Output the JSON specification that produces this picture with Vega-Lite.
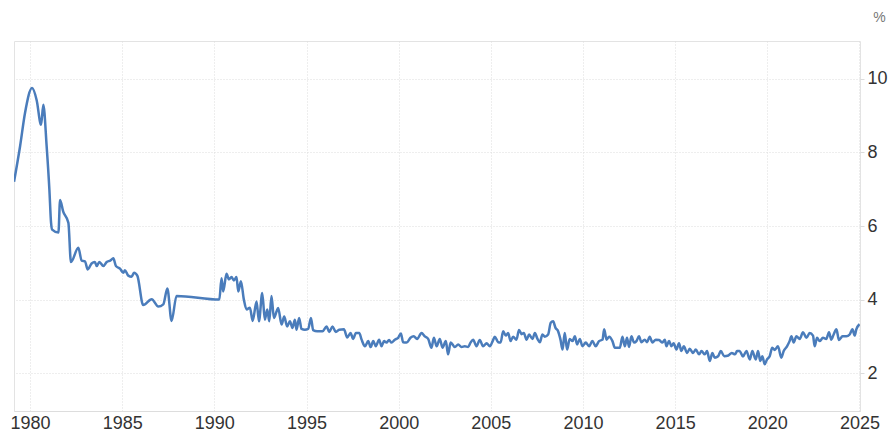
{
  "$schema": "https://vega.github.io/schema/vega-lite/v6.json",
  "width": 846,
  "height": 370,
  "autosize": {"type": "none"},
  "padding": {"left": 14, "top": 41, "right": 36, "bottom": 25},
  "background": "white",
  "config": {
    "font": "Liberation Sans",
    "view": {"stroke": "#e3e3e3", "strokeWidth": 1}
  },
  "data": {
    "values": [
      {"t": 1979.13, "v": 7.2}, {"t": 1979.46, "v": 8.17}, {"t": 1979.73, "v": 9.08}, {"t": 1980.11, "v": 9.75},
      {"t": 1980.36, "v": 9.42}, {"t": 1980.6, "v": 8.75}, {"t": 1980.72, "v": 9.3}, {"t": 1980.9, "v": 8.18},
      {"t": 1981.05, "v": 6.99}, {"t": 1981.14, "v": 6.09}, {"t": 1981.2, "v": 5.9}, {"t": 1981.54, "v": 5.82},
      {"t": 1981.63, "v": 6.71}, {"t": 1981.8, "v": 6.39}, {"t": 1982.08, "v": 6.09}, {"t": 1982.22, "v": 5.02},
      {"t": 1982.62, "v": 5.41}, {"t": 1982.8, "v": 5.06}, {"t": 1982.98, "v": 5.04}, {"t": 1983.13, "v": 4.82},
      {"t": 1983.34, "v": 4.98}, {"t": 1983.52, "v": 5.02}, {"t": 1983.62, "v": 4.91}, {"t": 1983.76, "v": 5.02},
      {"t": 1983.98, "v": 4.91}, {"t": 1984.16, "v": 5.02}, {"t": 1984.35, "v": 5.06}, {"t": 1984.52, "v": 5.12},
      {"t": 1984.66, "v": 4.91}, {"t": 1984.88, "v": 4.84}, {"t": 1985.06, "v": 4.73}, {"t": 1985.15, "v": 4.8},
      {"t": 1985.33, "v": 4.65}, {"t": 1985.51, "v": 4.62}, {"t": 1985.64, "v": 4.73}, {"t": 1985.82, "v": 4.65},
      {"t": 1986.14, "v": 3.85}, {"t": 1986.6, "v": 4.01}, {"t": 1986.96, "v": 3.81}, {"t": 1987.23, "v": 3.87},
      {"t": 1987.45, "v": 4.3}, {"t": 1987.68, "v": 3.42}, {"t": 1987.95, "v": 4.1}, {"t": 1990.27, "v": 4.0},
      {"t": 1990.39, "v": 4.58}, {"t": 1990.48, "v": 4.22}, {"t": 1990.66, "v": 4.7}, {"t": 1990.79, "v": 4.55},
      {"t": 1990.93, "v": 4.61}, {"t": 1991.06, "v": 4.52}, {"t": 1991.2, "v": 4.61}, {"t": 1991.3, "v": 4.22},
      {"t": 1991.44, "v": 4.5}, {"t": 1991.6, "v": 4.0}, {"t": 1991.75, "v": 3.73}, {"t": 1991.93, "v": 3.78},
      {"t": 1992.08, "v": 3.42}, {"t": 1992.29, "v": 3.95}, {"t": 1992.42, "v": 3.41}, {"t": 1992.6, "v": 4.18},
      {"t": 1992.74, "v": 3.45}, {"t": 1992.87, "v": 3.73}, {"t": 1992.98, "v": 3.41}, {"t": 1993.1, "v": 4.1},
      {"t": 1993.23, "v": 3.5}, {"t": 1993.38, "v": 3.68}, {"t": 1993.46, "v": 3.77}, {"t": 1993.65, "v": 3.32},
      {"t": 1993.79, "v": 3.54}, {"t": 1993.95, "v": 3.27}, {"t": 1994.1, "v": 3.41}, {"t": 1994.24, "v": 3.23},
      {"t": 1994.37, "v": 3.45}, {"t": 1994.46, "v": 3.18}, {"t": 1994.6, "v": 3.5}, {"t": 1994.73, "v": 3.2},
      {"t": 1994.91, "v": 3.18}, {"t": 1995.09, "v": 3.2}, {"t": 1995.24, "v": 3.5}, {"t": 1995.36, "v": 3.17},
      {"t": 1995.58, "v": 3.14}, {"t": 1995.87, "v": 3.14}, {"t": 1996.09, "v": 3.27}, {"t": 1996.23, "v": 3.12},
      {"t": 1996.41, "v": 3.27}, {"t": 1996.59, "v": 3.12}, {"t": 1996.77, "v": 3.18}, {"t": 1997.03, "v": 3.19},
      {"t": 1997.21, "v": 2.97}, {"t": 1997.39, "v": 3.09}, {"t": 1997.53, "v": 2.93}, {"t": 1997.68, "v": 3.09},
      {"t": 1997.86, "v": 3.09}, {"t": 1997.99, "v": 2.91}, {"t": 1998.17, "v": 2.73}, {"t": 1998.35, "v": 2.87},
      {"t": 1998.48, "v": 2.71}, {"t": 1998.62, "v": 2.87}, {"t": 1998.76, "v": 2.73}, {"t": 1998.94, "v": 2.91},
      {"t": 1999.07, "v": 2.73}, {"t": 1999.21, "v": 2.87}, {"t": 1999.34, "v": 2.83}, {"t": 1999.48, "v": 2.9},
      {"t": 1999.61, "v": 2.83}, {"t": 1999.79, "v": 2.91}, {"t": 1999.97, "v": 2.96}, {"t": 2000.12, "v": 3.08},
      {"t": 2000.24, "v": 2.84}, {"t": 2000.43, "v": 2.83}, {"t": 2000.64, "v": 2.96}, {"t": 2000.82, "v": 3.0},
      {"t": 2001.0, "v": 2.93}, {"t": 2001.24, "v": 3.09}, {"t": 2001.42, "v": 3.0}, {"t": 2001.6, "v": 2.93},
      {"t": 2001.78, "v": 2.69}, {"t": 2001.91, "v": 2.96}, {"t": 2002.06, "v": 2.73}, {"t": 2002.23, "v": 2.93},
      {"t": 2002.38, "v": 2.69}, {"t": 2002.56, "v": 2.87}, {"t": 2002.68, "v": 2.51}, {"t": 2002.82, "v": 2.83},
      {"t": 2003.05, "v": 2.71}, {"t": 2003.23, "v": 2.78}, {"t": 2003.41, "v": 2.71}, {"t": 2003.59, "v": 2.73},
      {"t": 2003.77, "v": 2.71}, {"t": 2003.9, "v": 2.83}, {"t": 2004.04, "v": 2.91}, {"t": 2004.22, "v": 2.73},
      {"t": 2004.4, "v": 2.9}, {"t": 2004.58, "v": 2.73}, {"t": 2004.77, "v": 2.81}, {"t": 2004.95, "v": 2.73},
      {"t": 2005.1, "v": 2.87}, {"t": 2005.22, "v": 2.99}, {"t": 2005.4, "v": 2.84}, {"t": 2005.53, "v": 2.83},
      {"t": 2005.67, "v": 3.14}, {"t": 2005.81, "v": 3.02}, {"t": 2005.94, "v": 3.09}, {"t": 2006.07, "v": 2.87},
      {"t": 2006.21, "v": 2.99}, {"t": 2006.39, "v": 2.91}, {"t": 2006.53, "v": 3.17}, {"t": 2006.67, "v": 3.06},
      {"t": 2006.79, "v": 3.09}, {"t": 2006.94, "v": 2.91}, {"t": 2007.08, "v": 3.05}, {"t": 2007.26, "v": 2.93},
      {"t": 2007.39, "v": 3.09}, {"t": 2007.53, "v": 2.93}, {"t": 2007.66, "v": 2.84}, {"t": 2007.8, "v": 3.05},
      {"t": 2007.93, "v": 2.99}, {"t": 2008.11, "v": 3.05}, {"t": 2008.25, "v": 3.37}, {"t": 2008.38, "v": 3.41},
      {"t": 2008.51, "v": 3.23}, {"t": 2008.65, "v": 3.14}, {"t": 2008.78, "v": 2.91}, {"t": 2008.89, "v": 2.64},
      {"t": 2009.01, "v": 3.09}, {"t": 2009.14, "v": 2.64}, {"t": 2009.28, "v": 2.93}, {"t": 2009.43, "v": 2.87},
      {"t": 2009.56, "v": 3.0}, {"t": 2009.68, "v": 2.78}, {"t": 2009.83, "v": 2.93}, {"t": 2009.97, "v": 2.73},
      {"t": 2010.15, "v": 2.83}, {"t": 2010.33, "v": 2.73}, {"t": 2010.51, "v": 2.87}, {"t": 2010.69, "v": 2.73},
      {"t": 2010.87, "v": 2.87}, {"t": 2011.06, "v": 2.91}, {"t": 2011.15, "v": 3.19}, {"t": 2011.28, "v": 2.91},
      {"t": 2011.42, "v": 2.99}, {"t": 2011.6, "v": 2.87}, {"t": 2011.73, "v": 2.69}, {"t": 2012.0, "v": 2.69},
      {"t": 2012.14, "v": 2.99}, {"t": 2012.27, "v": 2.73}, {"t": 2012.39, "v": 2.96}, {"t": 2012.5, "v": 2.71},
      {"t": 2012.63, "v": 3.0}, {"t": 2012.77, "v": 2.83}, {"t": 2012.9, "v": 2.87}, {"t": 2013.04, "v": 3.0},
      {"t": 2013.17, "v": 2.84}, {"t": 2013.35, "v": 2.91}, {"t": 2013.48, "v": 2.84}, {"t": 2013.62, "v": 2.99},
      {"t": 2013.77, "v": 2.83}, {"t": 2013.95, "v": 2.91}, {"t": 2014.13, "v": 2.9}, {"t": 2014.31, "v": 2.83},
      {"t": 2014.44, "v": 2.91}, {"t": 2014.53, "v": 2.73}, {"t": 2014.67, "v": 2.87}, {"t": 2014.8, "v": 2.73},
      {"t": 2014.92, "v": 2.81}, {"t": 2015.07, "v": 2.64}, {"t": 2015.21, "v": 2.81}, {"t": 2015.34, "v": 2.6},
      {"t": 2015.47, "v": 2.73}, {"t": 2015.65, "v": 2.55}, {"t": 2015.79, "v": 2.66}, {"t": 2015.97, "v": 2.55},
      {"t": 2016.12, "v": 2.64}, {"t": 2016.3, "v": 2.51}, {"t": 2016.43, "v": 2.6}, {"t": 2016.61, "v": 2.51},
      {"t": 2016.73, "v": 2.6}, {"t": 2016.88, "v": 2.33}, {"t": 2017.02, "v": 2.55}, {"t": 2017.15, "v": 2.42},
      {"t": 2017.33, "v": 2.46}, {"t": 2017.48, "v": 2.6}, {"t": 2017.66, "v": 2.46}, {"t": 2017.89, "v": 2.48},
      {"t": 2018.07, "v": 2.55}, {"t": 2018.25, "v": 2.51}, {"t": 2018.36, "v": 2.6}, {"t": 2018.5, "v": 2.6},
      {"t": 2018.68, "v": 2.45}, {"t": 2018.87, "v": 2.6}, {"t": 2019.05, "v": 2.37}, {"t": 2019.19, "v": 2.6},
      {"t": 2019.37, "v": 2.37}, {"t": 2019.5, "v": 2.6}, {"t": 2019.62, "v": 2.33}, {"t": 2019.73, "v": 2.46},
      {"t": 2019.86, "v": 2.24}, {"t": 2019.98, "v": 2.37}, {"t": 2020.13, "v": 2.46}, {"t": 2020.27, "v": 2.69},
      {"t": 2020.4, "v": 2.63}, {"t": 2020.58, "v": 2.73}, {"t": 2020.76, "v": 2.42}, {"t": 2020.89, "v": 2.6},
      {"t": 2021.07, "v": 2.73}, {"t": 2021.21, "v": 2.87}, {"t": 2021.31, "v": 3.0}, {"t": 2021.43, "v": 2.83},
      {"t": 2021.58, "v": 3.0}, {"t": 2021.76, "v": 2.93}, {"t": 2021.94, "v": 3.11}, {"t": 2022.12, "v": 2.96},
      {"t": 2022.3, "v": 3.09}, {"t": 2022.48, "v": 3.02}, {"t": 2022.57, "v": 2.73}, {"t": 2022.7, "v": 2.96},
      {"t": 2022.84, "v": 2.87}, {"t": 2023.02, "v": 2.96}, {"t": 2023.2, "v": 2.93}, {"t": 2023.35, "v": 3.11},
      {"t": 2023.47, "v": 2.91}, {"t": 2023.6, "v": 3.05}, {"t": 2023.75, "v": 3.19}, {"t": 2023.89, "v": 2.9},
      {"t": 2024.08, "v": 3.0}, {"t": 2024.29, "v": 3.0}, {"t": 2024.47, "v": 3.05}, {"t": 2024.62, "v": 3.19},
      {"t": 2024.74, "v": 3.02}, {"t": 2024.83, "v": 3.19}, {"t": 2025.0, "v": 3.33}
    ]
  },
  "mark": {"type": "line", "color": "#4a7cbb", "strokeWidth": 2.5, "interpolate": "monotone", "clip": true},
  "encoding": {
    "x": {
      "field": "t",
      "type": "quantitative",
      "scale": {"domain": [1979.13, 2025.03], "nice": false, "zero": false},
      "axis": {
        "title": null,
        "values": [1980, 1985, 1990, 1995, 2000, 2005, 2010, 2015, 2020, 2025],
        "format": "d",
        "labelFlush": false,
        "labelFontSize": 18,
        "labelColor": "#333333",
        "labelPadding": 3,
        "ticks": false,
        "domain": true,
        "domainColor": "#dddddd",
        "grid": true,
        "gridColor": "#dcdcdc",
        "gridDash": [1, 2],
        "labelFont": "Liberation Sans"
      }
    },
    "y": {
      "field": "v",
      "type": "quantitative",
      "scale": {"domain": [0.97, 11.03], "nice": false, "zero": false},
      "axis": {
        "orient": "right",
        "title": "%",
        "titleAngle": 0,
        "titleX": 19,
        "titleY": -24,
        "titleAlign": "center",
        "titleBaseline": "middle",
        "titleFontSize": 14,
        "titleFontWeight": "normal",
        "titleColor": "#777777",
        "titleFont": "Liberation Sans",
        "values": [2, 4, 6, 8, 10],
        "labelFontSize": 18,
        "labelColor": "#333333",
        "labelFont": "Liberation Sans",
        "labelPadding": 3,
        "ticks": true,
        "tickSize": 4,
        "tickColor": "#dcdcdc",
        "domain": false,
        "grid": true,
        "gridColor": "#dcdcdc",
        "gridDash": [1, 2]
      }
    }
  }
}
